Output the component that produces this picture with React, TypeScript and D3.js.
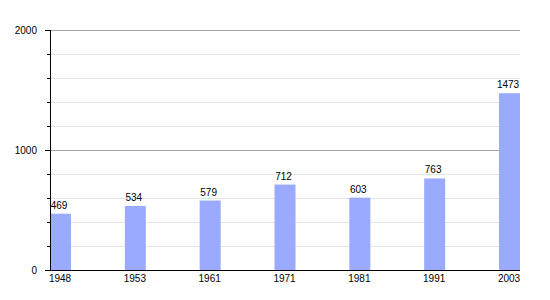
import React from "react";
import * as d3 from "d3";

const years = ["1948", "1953", "1961", "1971", "1981", "1991", "2003"];
const values = [469, 534, 579, 712, 603, 763, 1473];
const yTickLabels = [0, 1000, 2000];

export default function App() {
  const W = 550, H = 300;
  const left = 50, right = 520, top = 30, bottom = 270;
  const barW = 21;
  const x = d3.scalePoint<string>().domain(years).range([left, right - barW]);
  const y = d3.scaleLinear().domain([0, 2000]).range([bottom, top]);
  const minor = d3.range(0, 2001, 200);
  const font = "Liberation Sans, Arial, sans-serif";
  return (
    <svg width={W} height={H} style={{ position: "absolute", left: 0, top: 0 }}>
      <rect width={W} height={H} fill="#fff" />
      {minor.map((v) => {
        const major = v % 1000 === 0;
        if (v === 0) return null;
        return (
          <line key={"g" + v} x1={left} x2={right} y1={y(v) + 0.5} y2={y(v) + 0.5}
            stroke={major ? "#a8a8a8" : "#e4e4e4"} strokeWidth={1} />
        );
      })}
      {minor.map((v) => (
        <line key={"t" + v} x1={v % 1000 === 0 ? left - 5 : left - 3} x2={left} y1={y(v) + 0.5} y2={y(v) + 0.5}
          stroke="#000" strokeWidth={1} />
      ))}
      {years.map((yr, i) => (
        <rect key={yr} x={x(yr)!} y={y(values[i])} width={barW} height={bottom - y(values[i])}
          fill="#99aaff" />
      ))}
      {years.map((yr, i) => (
        <text key={"v" + yr} x={x(yr)! + barW / 2 - 1.5} y={y(values[i]) - 5} textAnchor="middle"
          fontFamily={font} fontSize={10} fill="#000">{values[i]}</text>
      ))}
      {years.map((yr) => (
        <text key={"x" + yr} x={x(yr)! + barW / 2 - 0.5} y={bottom + 12} textAnchor="middle"
          fontFamily={font} fontSize={10} fill="#000">{yr}</text>
      ))}
      {yTickLabels.map((v) => (
        <text key={"y" + v} x={left - 13} y={y(v) + 3.5} textAnchor="end"
          fontFamily={font} fontSize={10} fill="#000">{v}</text>
      ))}
      <line x1={left + 0.5} x2={left + 0.5} y1={top} y2={bottom + 1} stroke="#000" strokeWidth={1} />
      <line x1={left} x2={right} y1={bottom + 0.5} y2={bottom + 0.5} stroke="#000" strokeWidth={1} />
    </svg>
  );
}
